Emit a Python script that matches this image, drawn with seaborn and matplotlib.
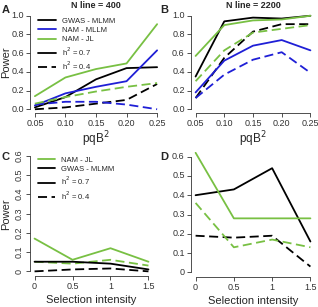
import matplotlib
matplotlib.use("Agg")
import matplotlib.pyplot as plt
from matplotlib.lines import Line2D
import seaborn as sns
import numpy as np

sns.set_style("ticks")
plt.rcParams["font.family"] = ["Liberation Sans", "DejaVu Sans"]

# Data
pqb2 = [0.05, 0.10, 0.15, 0.20, 0.25]
sel = [0, 0.5, 1, 1.5]

# Panel A (N line = 400)
a_gwas_07 = [0.02, 0.13, 0.32, 0.44, 0.45]
a_gwas_04 = [0.00, 0.02, 0.06, 0.10, 0.27]
a_mllm_07 = [0.04, 0.17, 0.24, 0.30, 0.63]
a_mllm_04 = [0.05, 0.08, 0.08, 0.05, 0.00]
a_jl_07 = [0.14, 0.34, 0.43, 0.49, 0.91]
a_jl_04 = [0.06, 0.13, 0.19, 0.24, 0.28]

# Panel B (N line = 2200)
b_gwas_07 = [0.35, 0.94, 0.98, 0.97, 1.00]
b_gwas_04 = [0.12, 0.55, 0.83, 0.91, 0.91]
b_mllm_07 = [0.18, 0.52, 0.68, 0.74, 0.63]
b_mllm_04 = [0.12, 0.37, 0.53, 0.61, 0.39]
b_jl_07 = [0.57, 0.90, 0.95, 0.96, 1.00]
b_jl_04 = [0.30, 0.63, 0.82, 0.86, 0.90]

# Panel C
c_jl_07 = [0.17, 0.06, 0.12, 0.05]
c_jl_04 = [0.05, 0.04, 0.06, 0.03]
c_gwas_07 = [0.05, 0.05, 0.04, 0.01]
c_gwas_04 = [0.00, 0.01, 0.015, 0.00]

# Panel D
d_gwas_07 = [0.40, 0.43, 0.54, 0.16]
d_gwas_04 = [0.19, 0.18, 0.19, 0.03]
d_jl_07 = [0.62, 0.28, 0.28, 0.28]
d_jl_04 = [0.36, 0.13, 0.17, 0.13]

BLACK = "black"
BLUE = "#1f1fd6"
GREEN = "#78c043"
DASH = (5, 2.5)
LW = 1.3

W, H = 318, 307
fig = plt.figure(figsize=(W / 100, H / 100), dpi=100)


def ax_at(left, top, right, bottom):
    return fig.add_axes([left / W, 1 - bottom / H, (right - left) / W, (bottom - top) / H])


def r_axes(ax, xlim, ylim, xticks, yticks, xlabels, ylabels, rot_y=0):
    # R style: 4% padding, axis lines only over the tick range
    dx = (xlim[1] - xlim[0]) * 0.04
    dy = (ylim[1] - ylim[0]) * 0.04
    ax.set_xlim(xlim[0] - dx, xlim[1] + dx)
    ax.set_ylim(ylim[0] - dy, ylim[1] + dy)
    ax.set_xticks(xticks)
    ax.set_xticklabels(xlabels)
    ax.set_yticks(yticks)
    ax.set_yticklabels(ylabels, rotation=rot_y, va="center")
    sns.despine(ax=ax)
    ax.spines["left"].set_bounds(yticks[0], yticks[-1])
    ax.spines["bottom"].set_bounds(xticks[0], xticks[-1])
    for s in ("left", "bottom"):
        ax.spines[s].set_linewidth(0.6)
        ax.spines[s].set_color("#333333")
    ax.tick_params(labelsize=6.5, length=3, width=0.6, pad=1.5, colors="#333333")
    ax.set_xlabel("")
    ax.set_ylabel("")


def line(ax, x, y, color, dashed=False):
    sns.lineplot(x=x, y=y, color=color, linewidth=LW, ax=ax, legend=False)
    if dashed:
        ax.lines[-1].set_dashes(DASH)


xt_a = [0.05, 0.10, 0.15, 0.20, 0.25]
xl_a = ["0.05", "0.10", "0.15", "0.20", "0.25"]
yt_a = [0.0, 0.2, 0.4, 0.6, 0.8, 1.0]
yl_a = ["0.0", "0.2", "0.4", "0.6", "0.8", "1.0"]

# Panel A
axA = ax_at(30, 12, 162, 113)
line(axA, pqb2, a_gwas_07, BLACK)
line(axA, pqb2, a_gwas_04, BLACK, True)
line(axA, pqb2, a_mllm_07, BLUE)
line(axA, pqb2, a_mllm_04, BLUE, True)
line(axA, pqb2, a_jl_07, GREEN)
line(axA, pqb2, a_jl_04, GREEN, True)
r_axes(axA, (0.05, 0.25), (0, 1), xt_a, yt_a, xl_a, yl_a)
axA.set_title("N line = 400", fontsize=6.5, fontweight="bold", pad=3)
axA.set_xlabel("pqB$^2$", fontsize=8.5, labelpad=1)
hA = [Line2D([], [], color=BLACK, lw=LW), Line2D([], [], color=BLUE, lw=LW),
      Line2D([], [], color=GREEN, lw=LW), Line2D([], [], color=BLACK, lw=LW),
      Line2D([], [], color=BLACK, lw=LW, dashes=DASH)]
axA.legend(hA, ["GWAS - MLMM", "NAM - MLLM", "NAM - JL", "h$^2$ = 0.7", "h$^2$ = 0.4"],
           loc="upper left", bbox_to_anchor=(0.02, 1.0), frameon=False, fontsize=5.5,
           handlelength=2.3, handletextpad=0.8, labelspacing=0.25, borderpad=0.2)

# Panel B
axB = ax_at(191, 12, 315, 113)
line(axB, pqb2, b_gwas_07, BLACK)
line(axB, pqb2, b_gwas_04, BLACK, True)
line(axB, pqb2, b_mllm_07, BLUE)
line(axB, pqb2, b_mllm_04, BLUE, True)
line(axB, pqb2, b_jl_07, GREEN)
line(axB, pqb2, b_jl_04, GREEN, True)
r_axes(axB, (0.05, 0.25), (0, 1), xt_a, yt_a, xl_a, yl_a)
axB.set_title("N line = 2200", fontsize=6.5, fontweight="bold", pad=3)
axB.set_xlabel("pqB$^2$", fontsize=8.5, labelpad=1)

xt_c = [0, 0.5, 1, 1.5]
xl_c = ["0", "0.5", "1", "1.5"]
yt_c = [0, 0.1, 0.2, 0.3, 0.4, 0.5, 0.6]
yl_c = ["0", "0.1", "0.2", "0.3", "0.4", "0.5", "0.6"]

# Panel C
axC = ax_at(30, 151, 153, 276)
line(axC, sel, c_jl_07, GREEN)
line(axC, sel, c_jl_04, GREEN, True)
line(axC, sel, c_gwas_07, BLACK)
line(axC, sel, c_gwas_04, BLACK, True)
r_axes(axC, (0, 1.5), (0, 0.6), xt_c, yt_c, xl_c, yl_c, rot_y=90)
axC.set_xlabel("Selection intensity", fontsize=8, labelpad=3)
hC = [Line2D([], [], color=GREEN, lw=LW), Line2D([], [], color=BLACK, lw=LW),
      Line2D([], [], color=BLACK, lw=LW), Line2D([], [], color=BLACK, lw=LW, dashes=DASH)]
axC.legend(hC, ["NAM - JL", "GWAS - MLMM", "h$^2$ = 0.7", "h$^2$ = 0.4"],
           loc="upper left", bbox_to_anchor=(0.02, 1.0), frameon=False, fontsize=5.5,
           handlelength=2.3, handletextpad=0.8, labelspacing=0.25, borderpad=0.2)

# Panel D
axD = ax_at(191, 152, 315, 277)
line(axD, sel, d_gwas_07, BLACK)
line(axD, sel, d_gwas_04, BLACK, True)
line(axD, sel, d_jl_07, GREEN)
line(axD, sel, d_jl_04, GREEN, True)
r_axes(axD, (0, 1.5), (0, 0.6), xt_c, yt_c, xl_c, yl_c)
axD.set_xlabel("Selection intensity", fontsize=8, labelpad=3)

# y-axis titles placed in figure pixels so they stay inside the canvas
fig.text(6 / W, 1 - 62 / H, "Power", fontsize=8, rotation=90, ha="center", va="center")
fig.text(6 / W, 1 - 214 / H, "Power", fontsize=8, rotation=90, ha="center", va="center")

# Panel letters
for x, y, s in [(2, 10, "A"), (160, 10, "B"), (2, 157, "C"), (160, 157, "D")]:
    fig.text(x / W, 1 - y / H, s, fontsize=8, fontweight="bold", va="center")

fig.savefig("out.png", dpi=100)
